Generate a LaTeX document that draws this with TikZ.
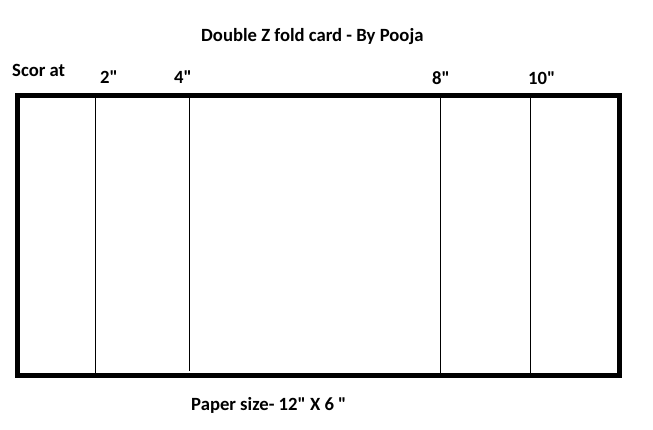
\documentclass[tikz,border=0pt]{standalone}
\usepackage{fontspec}
\setmainfont{Carlito}[Ligatures=TeXOff]
\begin{document}
\begin{tikzpicture}[x=1pt,y=1pt,
  lbl/.style={anchor=base west,inner sep=0pt,font=\fontsize{18.67}{22}\selectfont\bfseries},
  fold/.style={line width=1pt,draw=black}]
\useasboundingbox (0,0) rectangle (653,429);
\node[lbl] (title) at (201,387) {Double Z fold card - By Pooja};
\node[lbl] (scor) at (12,352) {Scor at};
\node[lbl] (t2) at (100,345) {2"};
\node[lbl] (t4) at (174,345) {4"};
\node[lbl] (t8) at (432,344) {8"};
\node[lbl] (t10) at (528,344) {10"};
\node[lbl] (paper) at (191,19) {Paper size- 12" X 6 "};
\draw[fold] (95.5,331) -- (95.5,56);
\draw[fold] (189.5,331) -- (189.5,58);
\draw[fold] (440,331) -- (440,56);
\draw[fold] (530,331) -- (530,56);
\draw[line width=5pt] (17.5,333.5) rectangle (619.5,53.5);
\end{tikzpicture}
\end{document}
